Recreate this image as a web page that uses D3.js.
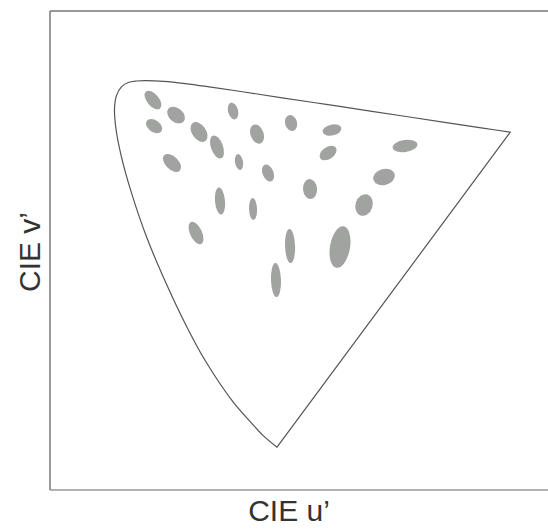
<!DOCTYPE html>
<html>
<head>
<meta charset="utf-8">
<script src="https://cdn.jsdelivr.net/npm/d3@7"></script>
<style>
  body { margin: 0; background: #fff; }
  svg { display: block; }
  .axis-label { font-family: "Liberation Sans", Arial, sans-serif; font-size: 30px; fill: #333; }
</style>
</head>
<body>
<svg width="548" height="529"></svg>
<script>
/*****************************************
*   Data (CIE 1976 u'v')
*****************************************/

// spectral locus, 380 nm -> 700 nm
var locusU = [0.2568, 0.2347, 0.2161, 0.1877, 0.1441, 0.1147, 0.0828, 0.0521, 0.0282,
              0.0119, 0.0035, 0.0014, 0.0046, 0.0123, 0.0231, 0.0360, 0.0501, 0.0792, 0.1127,
              0.1531, 0.2026, 0.2623, 0.3315, 0.4035, 0.5203, 0.5830, 0.6234];
var locusV = [0.0166, 0.0350, 0.0549, 0.0871, 0.1510, 0.2044, 0.2708, 0.3427, 0.4117,
              0.4698, 0.5131, 0.5432, 0.5638, 0.5770, 0.5837, 0.5861, 0.5868, 0.5856, 0.5821,
              0.5766, 0.5694, 0.5604, 0.5501, 0.5393, 0.5219, 0.5125, 0.5065];

// MacAdam-style ellipses: centre, semi-axes, tilt (deg, clockwise on screen)
var ellipseU = [0.0619, 0.0981, 0.0635, 0.1342, 0.1625, 0.1877, 0.2254, 0.2788, 0.0918, 0.1971,
                0.2427, 0.1672, 0.2191, 0.3433, 0.3370, 0.4580, 0.4250, 0.3936, 0.3087, 0.1295,
                0.2773, 0.3558, 0.2552];
var ellipseV = [0.5565, 0.5332, 0.5161, 0.5068, 0.4834, 0.5394, 0.5036, 0.5208, 0.4586, 0.4601,
                0.4430, 0.3995, 0.3870, 0.5099, 0.4741, 0.4850, 0.4368, 0.3932, 0.4181, 0.3497,
                0.3295, 0.3279, 0.2766];
var ellipseA = [0.0173, 0.0157, 0.0141, 0.0173, 0.0189, 0.0134, 0.0157, 0.0126, 0.0173, 0.0126,
                0.0141, 0.0212, 0.0173, 0.0149, 0.0149, 0.0196, 0.0173, 0.0173, 0.0157, 0.0189,
                0.0267, 0.0330, 0.0267];
var ellipseB = [0.0094, 0.0110, 0.0094, 0.0110, 0.0094, 0.0079, 0.0102, 0.0094, 0.0102, 0.0063,
                0.0086, 0.0079, 0.0063, 0.0086, 0.0094, 0.0094, 0.0126, 0.0134, 0.0110, 0.0094,
                0.0079, 0.0157, 0.0079];
var ellipseAngle = [50, 40, 35, 55, 70, 75, 70, 75, 45, 80,
                    68, 85, 88, -12, -35, -8, -15, -72, 85, 65,
                    88, -80, 88];

/*****************************************
*   Layout
*****************************************/

const SVG_WIDTH = 548;
const SVG_HEIGHT = 529;
const LEFT = 50;
const TOP = 11;
const BOTTOM = 490;

var svg = d3.select('svg');

var xScale = d3.scaleLinear()
    .domain([-0.1, 0.7])
    .range([LEFT, 559]);

var yScale = d3.scaleLinear()
    .domain([-0.05, 0.695])
    .range([BOTTOM, TOP]);

/*****************************************
*   Frame
*****************************************/

var frame = svg.append('g')
    .attr('stroke', '#777')
    .attr('stroke-width', 1.5)
    .attr('fill', 'none');

frame.append('line')
    .attr('x1', xScale(-0.1)).attr('x2', xScale(-0.1))
    .attr('y1', yScale(0.695)).attr('y2', yScale(-0.05));
frame.append('line')
    .attr('x1', xScale(-0.1)).attr('x2', xScale(0.7))
    .attr('y1', yScale(0.695)).attr('y2', yScale(0.695));
frame.append('line')
    .attr('x1', xScale(-0.1)).attr('x2', xScale(0.7))
    .attr('y1', yScale(-0.05)).attr('y2', yScale(-0.05))
    .attr('stroke', '#999');

/*****************************************
*   Spectral locus
*****************************************/

var locus = locusU.map((u, i) => [u, locusV[i]]);

var locusLine = d3.line()
    .x(d => xScale(d[0]))
    .y(d => yScale(d[1]))
    .curve(d3.curveCatmullRom.alpha(0.5));

svg.append('path')
    .attr('d', locusLine(locus) + 'Z')
    .attr('fill', 'none')
    .attr('stroke', '#555')
    .attr('stroke-width', 1.2);

/*****************************************
*   Ellipses
*****************************************/

var ellipses = ellipseU.map((u, i) => ({
    u: u, v: ellipseV[i], a: ellipseA[i], b: ellipseB[i], angle: ellipseAngle[i]
}));

svg.append('g')
    .selectAll('ellipse')
    .data(ellipses)
    .enter()
      .append('ellipse')
      .attr('cx', d => xScale(d.u))
      .attr('cy', d => yScale(d.v))
      .attr('rx', d => xScale(d.u + d.a) - xScale(d.u))
      .attr('ry', d => xScale(d.u + d.b) - xScale(d.u))
      .attr('transform', d => 'rotate(' + d.angle + ',' + xScale(d.u) + ',' + yScale(d.v) + ')')
      .attr('fill', '#a1a3a1');

/*****************************************
*   Labels
*****************************************/

svg.append('text')
    .attr('class', 'axis-label')
    .attr('text-anchor', 'middle')
    .attr('transform', 'translate(289,521)')
    .text('CIE u\u2019');

svg.append('text')
    .attr('class', 'axis-label')
    .attr('text-anchor', 'middle')
    .attr('transform', 'translate(40,252) rotate(-90)')
    .text('CIE v\u2019');
</script>
</body>
</html>
